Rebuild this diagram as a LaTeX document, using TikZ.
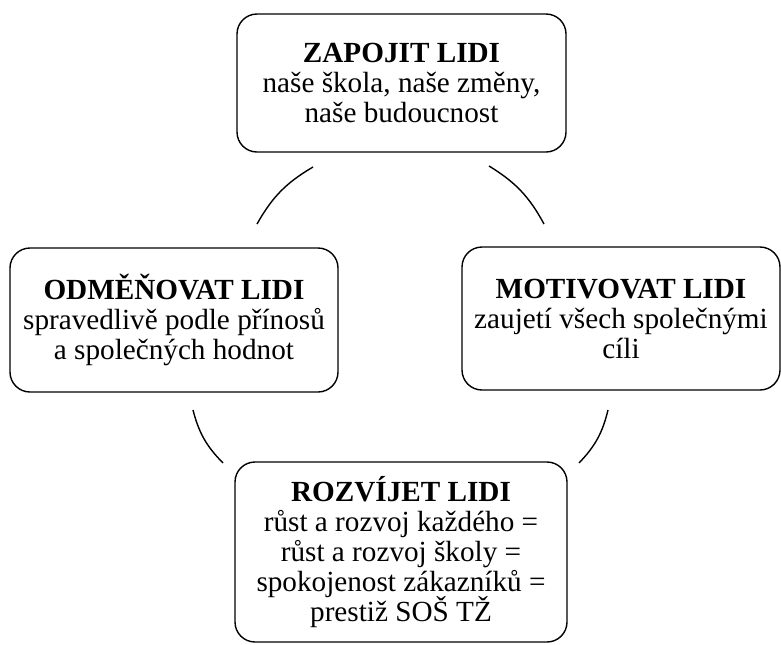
\documentclass[tikz,border=0pt]{standalone}
\usepackage{fontspec}
\setmainfont{Liberation Serif}
\usepackage{tikz}
\newcommand{\cyclefont}{\fontsize{14.6}{15}\selectfont\lineskiplimit=-10pt\relax}
\tikzstyle{cyclebox} = [draw=black, line width=0.7pt, rectangle, rounded corners=10pt, align=center, inner sep=0pt, font=\cyclefont]
\tikzstyle{cyclearc} = [draw=black, line width=0.7pt, bend left=15]

\begin{document}
\begin{tikzpicture}[x=0.5pt, y=-0.5pt]
        \useasboundingbox (0,0) rectangle (781,644);
        % boxes of the cycle
        \node [cyclebox, minimum width=164.5pt, minimum height=69pt] (zapojit) at (401.5,83) {%
            \textbf{ZAPOJIT LIDI}\\naše škola, naše změny,\\naše budoucnost};
        \node [cyclebox, minimum width=159pt, minimum height=71.5pt] (motivovat) at (621,318.5) {%
            \textbf{MOTIVOVAT LIDI}\\zaujetí všech společnými\\cíli};
        \node [cyclebox, minimum width=166pt, minimum height=90pt] (rozvijet) at (401,552) {%
            \textbf{ROZVÍJET LIDI}\\růst a rozvoj každého =\\růst a rozvoj školy =\\spokojenost zákazníků =\\prestiž SOŠ TŽ};
        \node [cyclebox, minimum width=164pt, minimum height=72pt] (odmenovat) at (174,320) {%
            \textbf{ODMĚŇOVAT LIDI}\\spravedlivě podle přínosů\\a společných hodnot};
        % arcs between the boxes
        \coordinate (tl1) at (257,224);
        \coordinate (tl2) at (313,167);
        \coordinate (tr1) at (489,166);
        \coordinate (tr2) at (544,224);
        \coordinate (br1) at (608,410);
        \coordinate (br2) at (579,463);
        \coordinate (bl1) at (223,463);
        \coordinate (bl2) at (193,410);
        \draw [cyclearc] (tl1) to (tl2);
        \draw [cyclearc] (tr1) to (tr2);
        \draw [cyclearc] (br1) to (br2);
        \draw [cyclearc] (bl1) to (bl2);
    \end{tikzpicture}
\end{document}
